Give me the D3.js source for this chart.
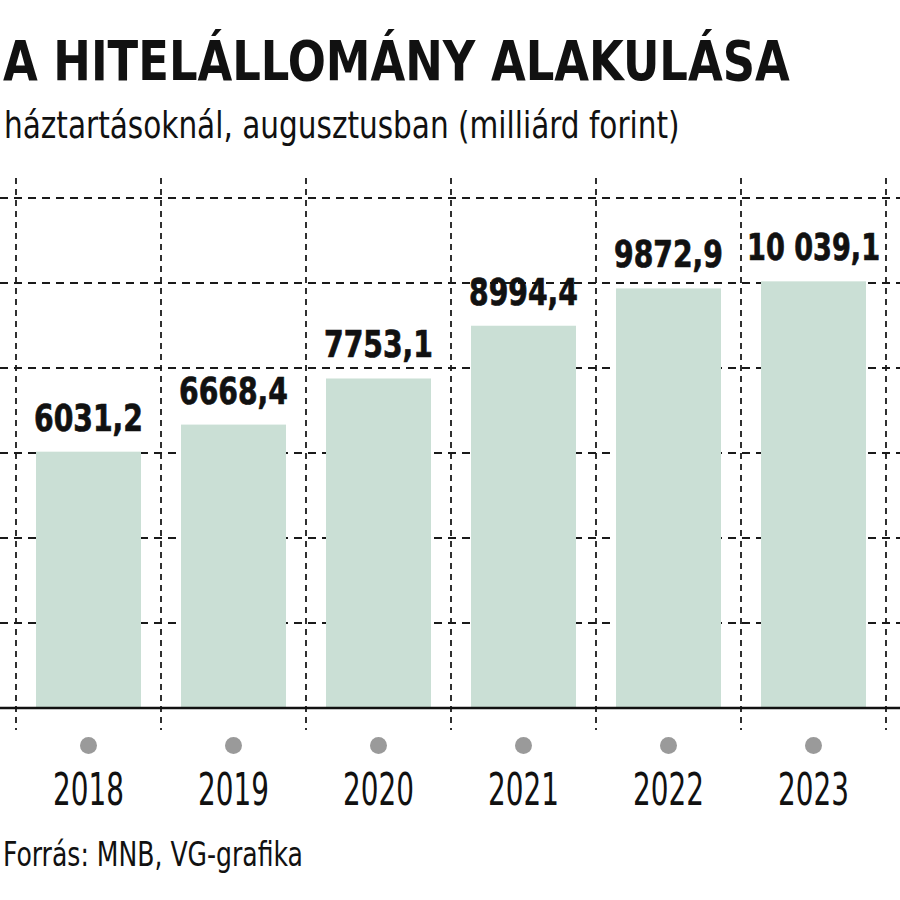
<!DOCTYPE html>
<html>
<head>
<meta charset="utf-8">
<script src="https://cdn.jsdelivr.net/npm/d3@7"></script>
<style>
  html, body { margin: 0; padding: 0; background: #fff; }
  svg { display: block; }
  text { font-family: "DejaVu Sans Condensed", "Liberation Sans Narrow", sans-serif; fill: #111; }
</style>
</head>
<body>
<svg id="chart" width="900" height="900"></svg>
<script>
const years = ["2018", "2019", "2020", "2021", "2022", "2023"];
const values = [6031.2, 6668.4, 7753.1, 8994.4, 9872.9, 10039.1];
const valueLabels = ["6031,2", "6668,4", "7753,1", "8994,4", "9872,9", "10 039,1"];
const gridTicks = [2000, 4000, 6000, 8000, 10000, 12000];
const titleText = "A HITELÁLLOMÁNY ALAKULÁSA";
const subtitleText = "háztartásoknál, augusztusban (milliárd forint)";
const sourceText = "Forrás: MNB, VG-grafika";

const svg = d3.select("#chart");

const x = d3.scaleBand()
  .domain(years)
  .range([16, 886])
  .paddingInner(40 / 145)
  .paddingOuter(20 / 145);

const y = d3.scaleLinear()
  .domain([0, 12000])
  .range([708, 198]);

const step = x.step();
const bw = x.bandwidth();
const gap = step - bw;

// squeeze a text horizontally to a target width, anchored at (ax, ay)
function fitText(sel, ax, ay, target, anchor) {
  const node = sel.node();
  const w = node.getComputedTextLength();
  const k = target / w;
  sel.attr("x", 0).attr("y", 0)
    .attr("text-anchor", anchor)
    .attr("transform", `translate(${ax},${ay}) scale(${k},1)`);
}

// horizontal dashed gridlines
svg.append("g").selectAll("line")
  .data(gridTicks)
  .join("line")
  .attr("x1", 0).attr("x2", 900)
  .attr("y1", d => y(d)).attr("y2", d => y(d))
  .attr("stroke", "#1a1a1a")
  .attr("stroke-width", 1.8)
  .attr("stroke-dasharray", "8,6");

// vertical dashed separators at band boundaries
const bounds = years.map(d => x(d) - gap / 2).concat([x(years[years.length - 1]) + bw + gap / 2]);
svg.append("g").selectAll("line")
  .data(bounds)
  .join("line")
  .attr("x1", d => d).attr("x2", d => d)
  .attr("y1", 178).attr("y2", 730)
  .attr("stroke", "#1a1a1a")
  .attr("stroke-width", 1.8)
  .attr("stroke-dasharray", "6,5");

// bars
svg.append("g").selectAll("rect")
  .data(values)
  .join("rect")
  .attr("x", (d, i) => x(years[i]))
  .attr("width", bw)
  .attr("y", d => y(d))
  .attr("height", d => y(0) - y(d))
  .attr("fill", "#cadfd5");

// baseline
svg.append("line")
  .attr("x1", 0).attr("x2", 900)
  .attr("y1", y(0)).attr("y2", y(0))
  .attr("stroke", "#111")
  .attr("stroke-width", 2.6);

// value labels
function labelWidth(s) {
  let w = 0;
  for (const c of s) w += (c === "," ? 9 : c === " " ? 4 : 20);
  return w;
}
const vg = svg.append("g");
values.forEach((v, i) => {
  const t = vg.append("text")
    .attr("font-size", 37)
    .attr("font-weight", "bold")
    .attr("stroke", "#111")
    .attr("stroke-width", 0.7)
    .text(valueLabels[i]);
  fitText(t, x(years[i]) + bw / 2, y(v) - 21, labelWidth(valueLabels[i]), "middle");
});

// grey dots
svg.append("g").selectAll("circle")
  .data(years)
  .join("circle")
  .attr("cx", d => x(d) + bw / 2)
  .attr("cy", 745.5)
  .attr("r", 8.5)
  .attr("fill", "#9a9a9a");

// year labels
const yg = svg.append("g");
years.forEach(d => {
  const t = yg.append("text").attr("font-size", 44).text(d);
  fitText(t, x(d) + bw / 2, 805, 71, "middle");
});

// title
fitText(svg.append("text").attr("font-size", 55).attr("font-weight", "bold").text(titleText),
  3, 80, 787, "start");

// subtitle
fitText(svg.append("text").attr("font-size", 38).text(subtitleText),
  4, 138, 676, "start");

// source
fitText(svg.append("text").attr("font-size", 34).text(sourceText),
  3, 866, 300, "start");
</script>
</body>
</html>
